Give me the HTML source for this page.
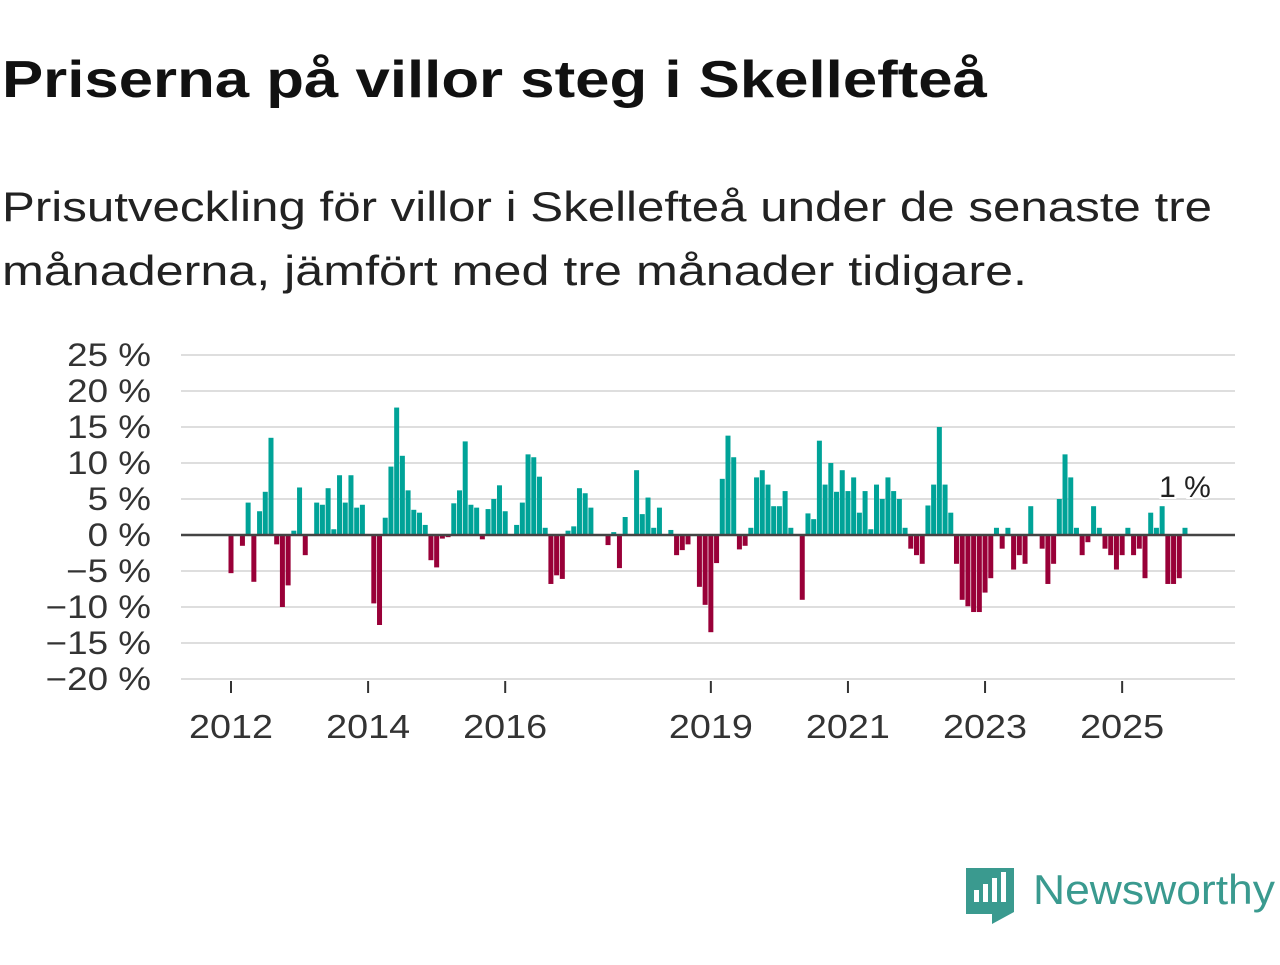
<!DOCTYPE html>
<html><head><meta charset="utf-8"><style>
body{margin:0;width:1280px;height:960px;background:#fff;font-family:"Liberation Sans",sans-serif;overflow:hidden}
</style></head><body>
<svg width="1280" height="960">
<text x="2" y="97" font-size="52" font-weight="bold" fill="#111" textLength="985" lengthAdjust="spacingAndGlyphs">Priserna på villor steg i Skellefteå</text>
<text x="2" y="221" font-size="42" fill="#222" textLength="1210" lengthAdjust="spacingAndGlyphs">Prisutveckling för villor i Skellefteå under de senaste tre</text>
<text x="2" y="285" font-size="42" fill="#222" textLength="1025" lengthAdjust="spacingAndGlyphs">månaderna, jämfört med tre månader tidigare.</text>
<g id="grid"></g><g id="bars"></g><g id="axes"></g>
<g>
<path d="M966 868h48v44l-22 12v-10h-26z" fill="#3a9a8f"/>
<rect x="974" y="890" width="5" height="12" fill="#fff"/><rect x="983" y="884" width="5" height="18" fill="#fff"/><rect x="992" y="878" width="5" height="24" fill="#fff"/><rect x="1001" y="872" width="5" height="30" fill="#fff"/>
<text x="1033" y="904" font-size="42" fill="#3a9a8f" textLength="242" lengthAdjust="spacingAndGlyphs">Newsworthy</text>
</g>
</svg>
<script>
const startYear = 2012;
const values = [-5.3,0,-1.5,4.5,-6.5,3.3,6,13.5,-1.3,-10,-7,0.6,6.6,-2.8,0,4.5,4.2,6.5,0.8,8.3,4.5,8.3,3.8,4.2,0,-9.5,-12.5,2.4,9.5,17.7,11,6.2,3.5,3.1,1.4,-3.5,-4.5,-0.5,-0.3,4.4,6.2,13,4.2,3.8,-0.6,3.6,5,6.9,3.3,0,1.4,4.5,11.2,10.8,8.1,1,-6.8,-5.6,-6.1,0.6,1.2,6.5,5.8,3.8,0,0,-1.4,0.4,-4.6,2.5,0,9,2.9,5.2,1,3.8,0,0.7,-2.8,-2.1,-1.3,0,-7.2,-9.7,-13.5,-3.9,7.8,13.8,10.8,-2,-1.5,1,8,9,7,4,4,6.1,1,0,-9,3,2.2,13.1,7,10,6,9,6.1,8,3.1,6.1,0.8,7,5,8,6.1,5,1,-1.9,-2.8,-4,4.1,7,15,7,3.1,-4,-9,-9.9,-10.7,-10.7,-8,-6,1,-1.9,1,-4.8,-2.8,-4,4,0,-1.9,-6.8,-4,5,11.2,8,1,-2.8,-1,4,1,-1.9,-2.8,-4.8,-2.8,1,-2.8,-1.9,-6,3.1,1,4,-6.8,-6.8,-6,1];
const yTicks = [25,20,15,10,5,0,-5,-10,-15,-20];
const xTicks = [2012,2014,2016,2019,2021,2023,2025];
const NS="http://www.w3.org/2000/svg";
const yearW=68.55, x0=231, y0=535, k=7.2;
const xs=i=>x0+i*yearW/12, xy=yr=>x0+(yr-startYear)*yearW, ys=v=>y0-v*k;
const mk=(t,a,p)=>{const e=document.createElementNS(NS,t);for(const q in a)e.setAttribute(q,a[q]);p.appendChild(e);return e;};
const G=document.getElementById('grid'),B=document.getElementById('bars'),A=document.getElementById('axes');
yTicks.forEach(v=>{
 if(v!==0){const l=mk('line',{x1:181,x2:1235,y1:ys(v),y2:ys(v),stroke:'#dedede','stroke-width':2},G);
 
 }
 const t=mk('text',{x:151,y:ys(v)+11,'text-anchor':'end','font-size':32,fill:'#333'},A);
 t.textContent=(v<0?'\u2212'+(-v):v)+' %';
 
 
 const w=t.getComputedTextLength();
 t.setAttribute('textLength',w*1.15);
 t.setAttribute('lengthAdjust','spacingAndGlyphs');
});
values.forEach((v,i)=>{
 const r=mk('rect',{x:xs(i)-2.5,width:5,y:v>=0?ys(v):y0,height:Math.abs(v)*k,fill:v>=0?'#00a398':'#990038'},B);
 
 
});
const z=mk('line',{x1:181,x2:1235,y1:y0,y2:y0,stroke:'#444','stroke-width':2.5},A);


xTicks.forEach(yr=>{
 const l=mk('line',{x1:xy(yr),x2:xy(yr),y1:681,y2:693,stroke:'#333','stroke-width':2},A);
 
 
 const t=mk('text',{x:xy(yr),y:738,'text-anchor':'middle','font-size':33,fill:'#333',textLength:84,lengthAdjust:'spacingAndGlyphs'},A);
 t.textContent=yr;
 
 
});
const li=values.length-1;
const lab=mk('text',{x:xs(li),y:ys(values[li])-31,'text-anchor':'middle','font-size':30,fill:'#222',stroke:'#fff','stroke-width':4,'paint-order':'stroke'},A);
lab.textContent=Math.round(values[li])+' %';


</script>
</body></html>
